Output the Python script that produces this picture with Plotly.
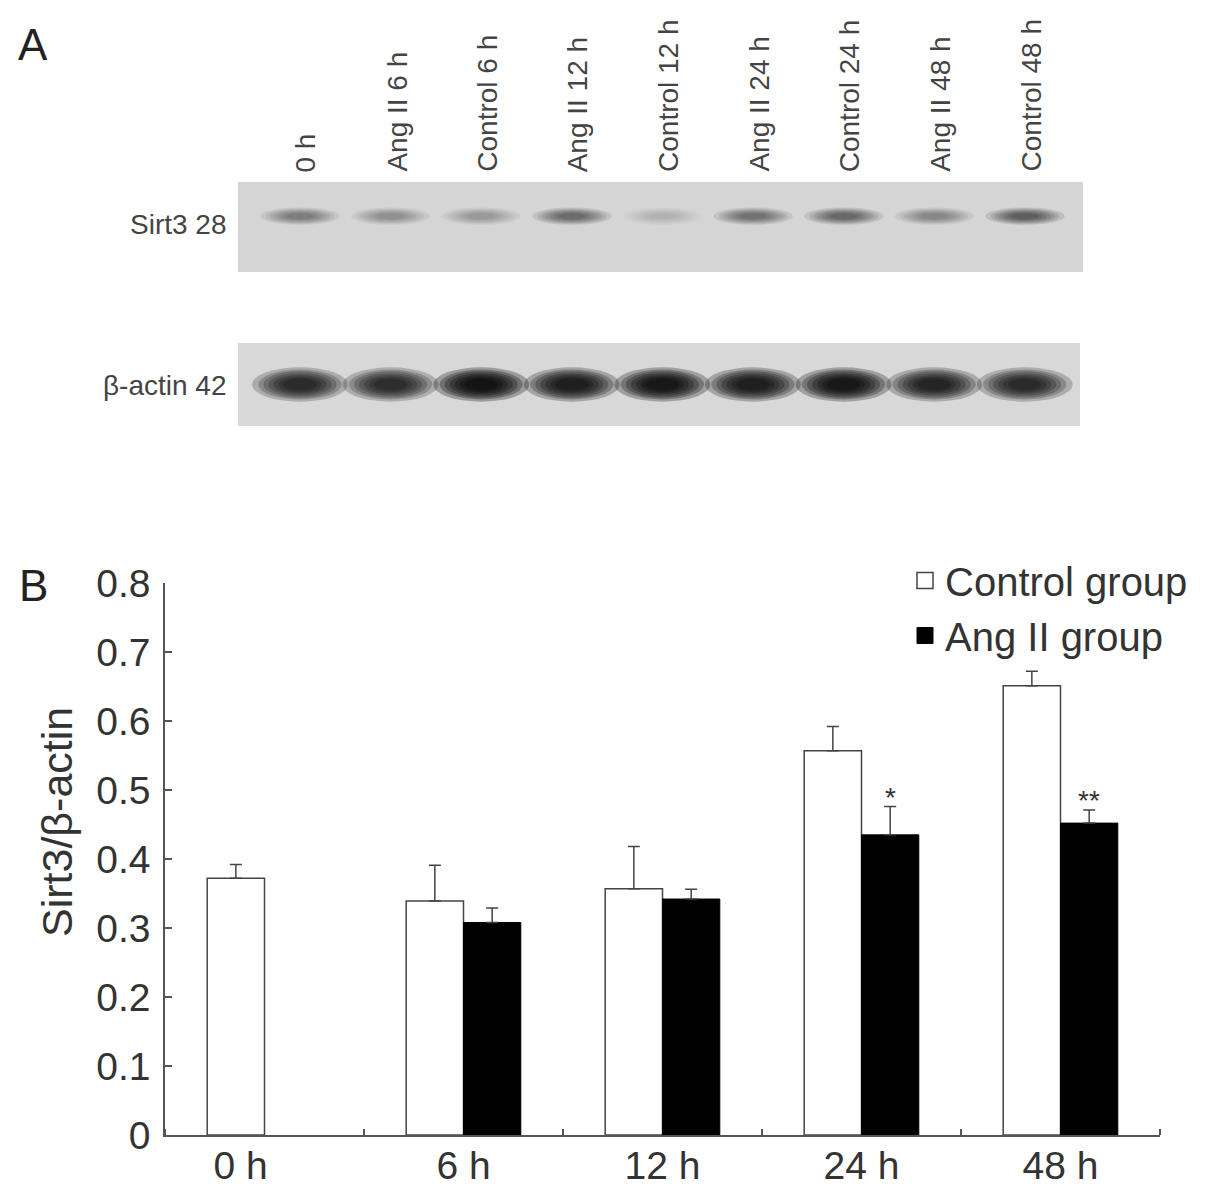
import plotly.graph_objects as go

# ---------------- data ----------------
time_points = ["0 h", "6 h", "12 h", "24 h", "48 h"]
control_mean = [0.372, 0.339, 0.357, 0.557, 0.651]
control_err = [0.020, 0.052, 0.061, 0.035, 0.021]
angii_mean = [None, 0.308, 0.342, 0.435, 0.452]
angii_err = [None, 0.021, 0.014, 0.041, 0.019]
significance = ["", "", "", "*", "**"]

lanes = ["0 h", "Ang II 6 h", "Control 6 h", "Ang II 12 h", "Control 12 h",
         "Ang II 24 h", "Control 24 h", "Ang II 48 h", "Control 48 h"]
sirt3_density = [0.40, 0.30, 0.27, 0.48, 0.15, 0.45, 0.50, 0.34, 0.55]
actin_density = [0.80, 0.78, 0.90, 0.85, 0.88, 0.85, 0.88, 0.82, 0.80]
blot_rows = ["Sirt3 28", "\u03b2-actin 42"]

# ---------------- style ----------------
W, H = 1205, 1199
OFF = 8  # page body margin
FONT = "Liberation Sans, Arial, sans-serif"
TXT = "#333333"
AX = "#555555"


def px(x):
    return (x - OFF) / W


def py(y):
    return 1 - (y - OFF) / H


fig = go.Figure()

cat_idx = list(range(len(time_points)))
BW = 0.288

fig.add_trace(go.Bar(
    x=cat_idx, y=control_mean, width=BW, offset=-BW,
    marker=dict(color="white", line=dict(color="#444444", width=1.5)),
    error_y=dict(type="data", symmetric=False, array=control_err,
                 arrayminus=[0] * len(control_err), color="#444444",
                 thickness=1.5, width=6),
    name="Control group", legendgroup="c", showlegend=False,
))
fig.add_trace(go.Bar(
    x=cat_idx, y=angii_mean, width=BW, offset=0,
    marker=dict(color="black", line=dict(color="black", width=1)),
    error_y=dict(type="data", symmetric=False,
                 array=[e if e is not None else 0 for e in angii_err],
                 arrayminus=[0] * len(angii_err), color="#444444",
                 thickness=1.5, width=6),
    name="Ang II group", legendgroup="a", showlegend=False,
))
# legend swatches
fig.add_trace(go.Scatter(
    x=[None], y=[None], mode="markers", name="Control group", legendgroup="c",
    marker=dict(symbol="square", size=16, color="white",
                line=dict(color="#444444", width=1.5)),
))
fig.add_trace(go.Scatter(
    x=[None], y=[None], mode="markers", name="Ang II group", legendgroup="a",
    marker=dict(symbol="square", size=16, color="black",
                line=dict(color="black", width=1)),
))

# significance marks
annotations = []
for i, s in enumerate(significance):
    if s and angii_mean[i] is not None:
        annotations.append(dict(
            x=i + BW / 2, y=angii_mean[i] + angii_err[i], xref="x", yref="y",
            text=s, showarrow=False, yanchor="bottom", yshift=-8,
            font=dict(family=FONT, size=28, color=TXT),
        ))

# tick label positions (single-bar group label sits over its bar)
tick_pos = [i - (0.12 if angii_mean[i] is None else 0) for i in cat_idx]

# ---------------- western blot (panel A) ----------------
lane_idx = list(range(len(lanes)))
for ax_n in (2, 3):
    fig.add_trace(go.Scatter(
        x=lane_idx, y=[0.5] * len(lanes), mode="markers",
        marker=dict(opacity=0), xaxis=f"x{ax_n}", yaxis=f"y{ax_n}",
        showlegend=False, hoverinfo="skip",
    ))

shapes = []
for ax_n, bg in ((2, "#d5d5d5"), (3, "#d8d8d8")):
    shapes.append(dict(type="rect", xref=f"x{ax_n} domain", yref=f"y{ax_n} domain",
                       x0=0, x1=1, y0=0, y1=1, fillcolor=bg,
                       line=dict(width=0), layer="below"))

layers = [1.15, 1.0, 0.88, 0.76, 0.64, 0.52, 0.40]


def add_band(ax_n, i, dens, yc, hw, hh):
    a = 1 - (1 - dens) ** (1 / len(layers))
    for s in layers:
        shapes.append(dict(type="circle", xref=f"x{ax_n}", yref=f"y{ax_n}",
                           x0=i - hw * s, x1=i + hw * s,
                           y0=yc - hh * s, y1=yc + hh * s,
                           fillcolor="black", opacity=a,
                           line=dict(width=0), layer="above"))


for i, d in enumerate(sirt3_density):
    add_band(2, i, d, 0.62, 0.38, 0.085)
for i, d in enumerate(actin_density):
    add_band(3, i, d, 0.5, 0.46, 0.18)

for i, name in enumerate(lanes):
    annotations.append(dict(
        x=i, y=py(174), xref="x2", yref="paper", text=name, textangle=-90,
        showarrow=False, xanchor="center", yanchor="bottom", xshift=6,
        font=dict(family=FONT, size=28, color="#444444"),
    ))

annotations.append(dict(x=px(229), y=py(225), xref="paper", yref="paper",
                        text=blot_rows[0], showarrow=False, xanchor="right",
                        yanchor="middle",
                        font=dict(family=FONT, size=28, color="#444444")))
annotations.append(dict(x=px(229), y=py(385), xref="paper", yref="paper",
                        text=blot_rows[1], showarrow=False, xanchor="right",
                        yanchor="middle",
                        font=dict(family=FONT, size=28, color="#444444")))

# panel letters
annotations.append(dict(x=px(33), y=py(45), xref="paper", yref="paper", text="A",
                        showarrow=False, xanchor="center", yanchor="middle",
                        font=dict(family=FONT, size=44, color="#222222")))
annotations.append(dict(x=px(33), y=py(585), xref="paper", yref="paper", text="B",
                        showarrow=False, xanchor="center", yanchor="middle",
                        font=dict(family=FONT, size=44, color="#222222")))

# y-axis title
annotations.append(dict(x=px(57), y=py(822), xref="paper", yref="paper",
                        text="Sirt3/\u03b2-actin", textangle=-90, showarrow=False,
                        xanchor="center", yanchor="middle",
                        font=dict(family=FONT, size=43, color=TXT)))

fig.update_layout(
    template="none",
    width=W, height=H,
    margin=dict(l=0, r=0, t=0, b=0, pad=0, autoexpand=False),
    paper_bgcolor="white", plot_bgcolor="white",
    barmode="overlay",
    font=dict(family=FONT, color=TXT),
    showlegend=True,
    legend=dict(x=px(905), y=py(548), xanchor="left", yanchor="top",
                bgcolor="rgba(0,0,0,0)", borderwidth=0,
                font=dict(family=FONT, size=40, color=TXT),
                tracegroupgap=0),
    xaxis=dict(
        domain=[px(165), px(1160)], range=[-0.5, 4.5], automargin=False,
        tickmode="array", tickvals=tick_pos, ticktext=time_points,
        ticks="", showline=True, linecolor=AX, linewidth=1.5,
        showgrid=False, zeroline=False, ticklabelstandoff=-5,
        tickfont=dict(family=FONT, size=39, color=TXT),
        minor=dict(ticks="inside", ticklen=6, tickwidth=1.5, tickcolor=AX,
                   tickmode="linear", tick0=-0.5, dtick=1, showgrid=False),
        anchor="y",
    ),
    yaxis=dict(
        domain=[py(1135), py(583)], range=[0, 0.8], dtick=0.1, tick0=0,
        automargin=False,
        ticks="inside", ticklen=7, tickwidth=1.5, tickcolor=AX,
        showline=True, linecolor=AX, linewidth=1.5,
        showgrid=False, zeroline=False, ticklabelstandoff=5,
        tickfont=dict(family=FONT, size=39, color=TXT),
        anchor="x",
    ),
    xaxis2=dict(domain=[px(238), px(1083)], range=[-0.684, 8.64], visible=False,
                anchor="y2", automargin=False),
    yaxis2=dict(domain=[py(272), py(182)], range=[0, 1], visible=False, anchor="x2",
                automargin=False),
    xaxis3=dict(domain=[px(238), px(1080)], range=[-0.684, 8.61], visible=False,
                anchor="y3", automargin=False),
    yaxis3=dict(domain=[py(426), py(343)], range=[0, 1], visible=False, anchor="x3",
                automargin=False),
    shapes=shapes,
    annotations=annotations,
)

fig.write_html("out.html")
